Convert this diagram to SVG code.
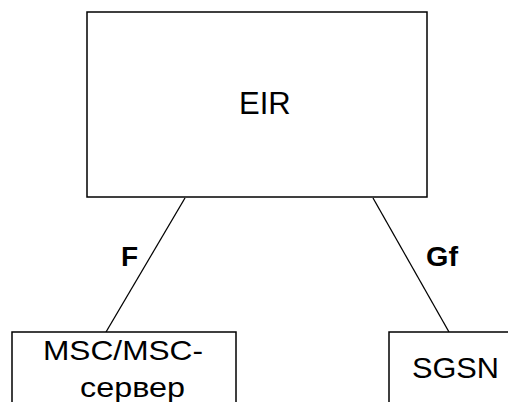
<svg xmlns="http://www.w3.org/2000/svg" width="508" height="402" viewBox="0 0 508 402">
<style>
.box{fill:#fff;stroke:#000;stroke-width:1.5}
.lbl{font-family:"Liberation Sans",Arial,sans-serif;fill:#000}
.edge{stroke:#000;stroke-width:1.3;fill:none}
</style>
<rect width="508" height="402" fill="#fff"/>
<g id="connectors">
<line class="edge" x1="185" y1="198" x2="106" y2="332"/>
<line class="edge" x1="373" y1="198" x2="449" y2="332"/>
<text class="lbl" x="121" y="266" font-size="28" font-weight="bold">F</text>
<text class="lbl" x="426" y="266" font-size="28" font-weight="bold" textLength="32" lengthAdjust="spacingAndGlyphs">Gf</text>
</g>
<g id="eir">
<rect class="box" x="87" y="12" width="340" height="185"/>
<text class="lbl" x="239" y="114" font-size="31">EIR</text>
</g>
<g id="msc">
<rect class="box" x="12" y="332" width="224" height="80"/>
<text class="lbl" x="43" y="360" font-size="28" textLength="160" lengthAdjust="spacingAndGlyphs">MSC/MSC-</text>
<text class="lbl" x="80" y="397" font-size="28" textLength="105" lengthAdjust="spacingAndGlyphs">сервер</text>
</g>
<g id="sgsn">
<rect class="box" x="389" y="332" width="130" height="80"/>
<text class="lbl" x="412" y="378" font-size="30" textLength="87" lengthAdjust="spacingAndGlyphs">SGSN</text>
</g>
</svg>
